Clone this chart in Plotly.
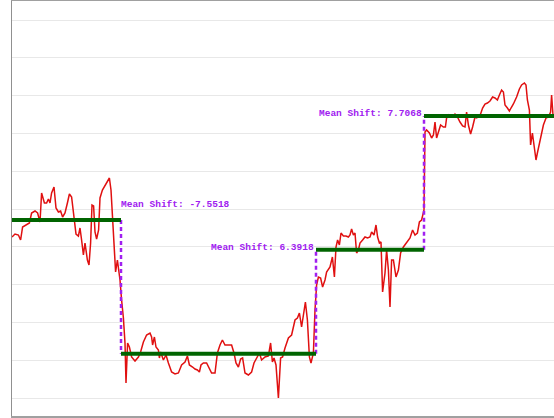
import plotly.graph_objects as go

t = [0.0, 1.5, 3.2, 4.3, 5.3, 7.0, 8.7, 9.8, 11.5, 12.8, 14.0, 14.8, 16.2, 17.3, 18.2, 19.0, 19.8, 21.0,
     22.0, 23.2, 24.3, 25.3, 26.5, 27.7, 28.7, 29.8, 31.0, 32.0, 33.2, 34.0, 34.8, 35.7, 36.5, 37.7,
     38.5, 39.3, 40.0, 40.8, 41.5, 42.3, 43.3, 44.0, 45.2, 46.5, 47.7, 48.7, 49.5, 50.3, 51.2, 51.8,
     52.7, 53.5, 54.0, 54.8, 55.7, 56.5, 57.0, 57.8, 58.7, 59.8, 61.5, 63.2, 64.3, 65.7, 67.3, 69.0,
     69.8, 70.3, 71.2, 72.0, 73.2, 73.7, 74.3, 75.7, 77.0, 78.2, 79.8, 81.5, 83.2, 84.8, 86.5, 87.7,
     88.7, 90.3, 91.5, 92.7, 93.7, 94.5, 95.7, 97.3, 98.2, 99.8, 101.5, 102.7, 104.0, 105.2, 106.5,
     108.2, 109.8, 111.0, 112.0, 113.2, 114.3, 115.3, 116.5, 118.2, 119.8, 121.0, 122.3, 123.7, 124.8,
     126.5, 128.2, 129.3, 130.2, 131.0, 132.0, 133.2, 134.3, 135.3, 136.5, 138.2, 139.8, 141.5, 142.7,
     143.7, 144.8, 145.7, 146.7, 147.7, 148.7, 149.5, 150.7, 151.5, 152.3, 153.2, 154.3, 155.3, 156.5,
     157.3, 159.0, 160.2, 161.2, 162.0, 162.8, 163.7, 164.5, 165.7, 167.0, 168.2, 169.0, 169.8, 170.7,
     171.5, 172.3, 173.2, 174.0, 175.3, 176.5, 177.8, 179.0, 179.8, 181.0, 182.0, 182.8, 183.7, 184.5,
     185.3, 186.5, 187.3, 188.2, 189.0, 189.8, 190.7, 192.0, 193.2, 194.3, 195.7, 197.3, 199.0, 200.3,
     201.5, 202.7, 203.7, 204.8, 206.0, 206.5, 207.3, 208.7, 209.8, 210.7, 211.5, 212.3, 213.7, 214.3,
     215.7, 216.7, 217.3, 218.2, 219.3, 220.7, 221.5, 222.7, 224.0, 225.3, 226.5, 227.3, 228.2, 229.3,
     230.3, 231.5, 232.3, 233.2, 234.3, 235.3, 236.5, 237.7, 239.0, 240.3, 241.5, 242.7, 243.7, 244.8,
     245.7, 246.5, 247.7, 248.7, 249.5, 250.7, 252.3, 253.7, 254.8, 256.2, 257.0, 257.7, 258.7, 259.3,
     260.2, 261.0, 262.0, 262.8, 264.0, 265.7, 267.0, 268.2, 269.3, 269.8, 270.5]
values = [17.9, 18.2, 18.1, 17.6, 18.9, 19.1, 19.3, 20.3, 20.5, 20.3, 19.4, 22.3, 21.3, 21.3, 21.7, 21.3,
          22.3, 22.9, 20.8, 20.4, 20.5, 19.9, 20.3, 21.3, 22.2, 21.9, 19.6, 18.2, 18.0, 18.8, 17.6, 16.1,
          17.3, 15.6, 15.1, 17.3, 21.1, 21.0, 18.4, 17.7, 18.6, 21.8, 22.6, 23.0, 23.4, 23.8, 22.6, 19.6,
          16.6, 14.4, 15.6, 14.6, 13.6, 11.6, 9.8, 7.3, 3.3, 7.3, 6.9, 5.9, 5.5, 5.9, 6.4, 7.4, 8.1, 8.3,
          7.9, 7.1, 7.9, 6.9, 6.6, 5.8, 6.4, 5.6, 6.1, 5.3, 4.4, 4.2, 4.3, 5.1, 5.4, 6.0, 5.1, 4.9, 4.7,
          4.6, 4.4, 5.1, 5.3, 5.3, 4.9, 4.3, 4.3, 6.3, 7.1, 7.6, 7.1, 7.1, 7.1, 6.3, 5.3, 4.9, 5.7, 5.8,
          4.3, 4.1, 4.4, 5.3, 5.8, 6.3, 5.6, 5.9, 6.0, 7.3, 5.4, 5.8, 5.1, 1.8, 5.8, 5.9, 6.8, 7.8, 8.1,
          9.6, 9.8, 10.3, 8.9, 10.3, 11.4, 9.6, 5.9, 5.3, 6.3, 10.6, 13.1, 13.9, 13.8, 12.9, 13.6, 14.4,
          14.9, 15.9, 13.9, 16.9, 17.6, 17.1, 18.3, 18.0, 18.0, 17.9, 18.1, 18.7, 18.1, 18.3, 16.3, 16.6,
          17.3, 17.6, 17.9, 17.8, 17.9, 18.4, 18.1, 19.1, 17.9, 17.3, 17.4, 12.4, 14.3, 16.6, 14.6, 10.9,
          15.6, 15.6, 13.9, 14.6, 16.3, 16.9, 17.4, 17.8, 18.6, 18.1, 18.3, 19.4, 19.6, 20.6, 28.4, 28.6,
          28.3, 27.8, 28.1, 29.4, 27.8, 28.6, 29.1, 28.9, 28.9, 29.8, 30.1, 29.9, 29.9, 30.2, 29.9, 29.4,
          29.0, 28.9, 30.4, 29.1, 28.2, 28.9, 29.9, 29.8, 29.9, 30.2, 30.8, 31.2, 31.3, 31.5, 31.9, 31.8,
          31.6, 32.1, 32.6, 32.4, 31.1, 30.8, 30.5, 30.8, 31.2, 31.9, 32.7, 33.1, 33.3, 33.1, 31.6, 30.6,
          27.1, 28.3, 27.1, 25.6, 26.4, 27.4, 29.1, 29.8, 29.9, 30.4, 32.1, 30.1]

# detected segments
seg_start = [0, 54.5, 152, 206]
seg_end = [54.5, 152, 206, 271]
seg_mean = [19.6, 6.23, 16.63, 30.0]
shift_labels = ["Mean Shift: -7.5518", "Mean Shift: 6.3918", "Mean Shift: 7.7068"]
label_y = [21.2, 16.83, 30.27]
label_anchor = ["left", "right", "right"]

purple = "#a020f0"

fig = go.Figure()
fig.add_trace(go.Scatter(x=t, y=values, mode="lines",
                         line=dict(color="#e01010", width=1.5), showlegend=False))

for i in range(1, len(seg_start)):
    fig.add_trace(go.Scatter(
        x=[seg_start[i], seg_start[i]], y=[seg_mean[i - 1], seg_mean[i]],
        mode="lines", line=dict(color=purple, width=2.5, dash="4px,3px"), showlegend=False))

for s, e, m in zip(seg_start, seg_end, seg_mean):
    fig.add_trace(go.Scatter(x=[s, e], y=[m, m], mode="lines",
                             line=dict(color="#006400", width=4), showlegend=False))

annotations = []
for i in range(1, len(seg_start)):
    annotations.append(dict(
        x=seg_start[i], y=label_y[i - 1], xref="x", yref="y",
        text="<b>" + shift_labels[i - 1] + "</b>", showarrow=False,
        xanchor=label_anchor[i - 1], yanchor="middle",
        xshift=-2 if label_anchor[i - 1] == "left" else 0,
        font=dict(family="Liberation Mono, Courier New, monospace", size=9.5, color=purple)))

fig.update_layout(
    width=554, height=418,
    margin=dict(l=12, r=0, t=1, b=2),
    paper_bgcolor="white", plot_bgcolor="white",
    annotations=annotations,
    xaxis=dict(range=[0, 271], showgrid=False, zeroline=False, showticklabels=False,
               showline=True, linecolor="#a0a0a0", linewidth=1.5, mirror=True, ticks=""),
    yaxis=dict(range=[0, 41.5], tick0=1.8, dtick=3.78, showgrid=True, gridcolor="#e8e8e8",
               zeroline=False, showticklabels=False, showline=True, linecolor="#909090",
               linewidth=1, ticks=""),
)

# page body has a default 8px margin; drop it so the figure sits at the window corner
fig.write_html("out.html", config={"displayModeBar": False},
               post_script="document.body.style.margin='0';")
